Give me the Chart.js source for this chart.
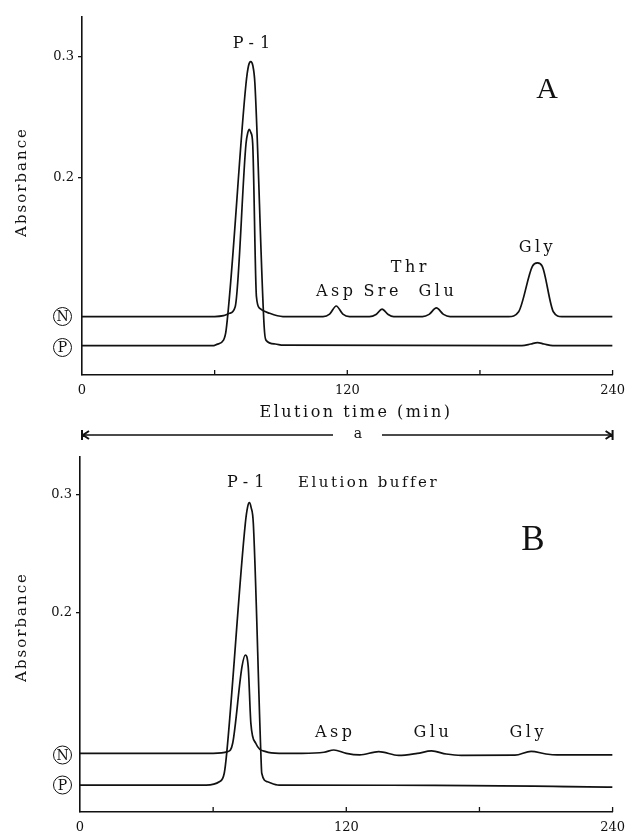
<!DOCTYPE html>
<html>
<head>
<meta charset="utf-8">
<script src="https://cdn.jsdelivr.net/npm/chart.js@4.4.1/dist/chart.umd.min.js"></script>
<style>
  html, body { margin: 0; padding: 0; background: #fff; }
  #wrap { width: 633px; height: 836px; position: relative; }
  canvas { display: block; }
</style>
</head>
<body>
<div id="wrap">
  <div style="width:633px;height:440px"><canvas id="chartA" width="633" height="440"></canvas></div>
  <div style="width:633px;height:396px"><canvas id="chartB" width="633" height="396"></canvas></div>
</div>
<script>
// elution time (min) and absorbance
const xTickValues = [0, 60, 120, 180, 240];
const xTickLabels = ['0', '', '120', '', '240'];
const yTickValues = [0.2, 0.3];

// panel A, trace P (broad P-1 peak)
const timeAP = [0, 59.6, 61.0, 64.0, 65.2, 74.2, 75.3, 76.3, 77.3, 78.2, 82.4, 83.2, 87.4, 91, 199, 203, 206, 209, 213, 240];
const absAP  = [0.0615, 0.0615, 0.0625, 0.066, 0.0744, 0.2783, 0.2926, 0.2961, 0.2926, 0.2783, 0.0771, 0.066, 0.0628, 0.0618, 0.0615, 0.0628, 0.064, 0.0628, 0.0615, 0.0615];

// panel A, trace N (narrow peak + amino acids)
const timeAN = [0, 60, 64, 66.7, 69.3, 74.2, 75.0, 75.7, 76.4, 77.2, 78.9, 80.4, 84.9, 90.9,
                109, 112, 115, 118, 121, 130, 133, 135.7, 138.5, 141,
                154, 157, 160.3, 163.5, 166.5, 193, 197.5, 203.7, 206, 208.2, 213.2, 217, 240];
const absAN  = [0.0855, 0.0855, 0.0862, 0.0882, 0.0936, 0.2287, 0.2375, 0.2402, 0.2375, 0.2287, 0.1019, 0.0923, 0.0882, 0.0855,
                0.0855, 0.0875, 0.0942, 0.0875, 0.0855, 0.0855, 0.0872, 0.0917, 0.0872, 0.0855,
                0.0855, 0.0873, 0.0926, 0.0873, 0.0855, 0.0855, 0.0895, 0.127, 0.1298, 0.127, 0.0895, 0.0855, 0.0855];

// panel B, trace P
const timeBP = [0, 56.8, 62.8, 65.0, 66.1, 74.5, 75.5, 76.3, 77.1, 78.1, 81.5, 81.9, 84.5, 89.7, 160, 240];
const absBP  = [0.0542, 0.0542, 0.057, 0.0642, 0.0811, 0.276, 0.2895, 0.2935, 0.2895, 0.276, 0.0811, 0.0642, 0.057, 0.0542, 0.054, 0.0525];

// panel B, trace N
const timeBN = [0, 60, 66.5, 68.8, 73.0, 74.5, 75.8, 77.0, 79.2, 83.7, 89.7, 100, 110, 114.4, 120, 126, 134.6, 143.6, 152, 158.4, 165, 171.8, 196, 203.3, 210, 215, 240];
const absBN  = [0.0811, 0.0811, 0.0825, 0.0896, 0.1545, 0.1644, 0.1545, 0.1065, 0.0896, 0.0825, 0.0811, 0.0811, 0.082, 0.0839, 0.081, 0.0797, 0.0825, 0.0793, 0.081, 0.0831, 0.0805, 0.0793, 0.0795, 0.0828, 0.0805, 0.0797, 0.0797];

// peak names: elution time and label height (px)
const peakLabelsA = [
  { text: 'P-1', t: 78, y: 44 },
  { text: 'Asp', t: 115, y: 292 },
  { text: 'Sre', t: 136, y: 292 },
  { text: 'Thr', t: 148.5, y: 268 },
  { text: 'Glu', t: 161, y: 292 },
  { text: 'Gly', t: 206, y: 248 }
];
const peakLabelsB = [
  { text: 'P-1', t: 76, y: 43 },
  { text: 'Asp', t: 115, y: 293 },
  { text: 'Glu', t: 159, y: 293 },
  { text: 'Gly', t: 202, y: 293 }
];

const INK = '#111';
const SERIF = '"DejaVu Serif", "Liberation Serif", serif';

function pts(ts, vs) {
  return ts.map((t, i) => ({ x: t, y: vs[i] }));
}

function traceSet(ts, vs) {
  return {
    data: pts(ts, vs),
    borderColor: INK,
    borderWidth: 1.7,
    pointRadius: 0,
    fill: false,
    cubicInterpolationMode: 'monotone'
  };
}

function spaced(ctx, text, x, y, spacing) {
  ctx.letterSpacing = spacing + 'px';
  ctx.fillText(text, x, y);
  ctx.letterSpacing = '0px';
}

function circled(ctx, letter, x, y) {
  ctx.beginPath();
  ctx.arc(x, y, 9, 0, Math.PI * 2);
  ctx.lineWidth = 1;
  ctx.strokeStyle = INK;
  ctx.stroke();
  ctx.font = '14px ' + SERIF;
  ctx.textAlign = 'center';
  ctx.textBaseline = 'middle';
  ctx.fillText(letter, x, y + 1);
}

function makeAnnot(opts) {
  return {
    id: 'annot',
    afterDraw(chart) {
      const ctx = chart.ctx;
      const xs = chart.scales.x;
      const bottom = chart.chartArea.bottom;
      ctx.save();
      ctx.fillStyle = INK;
      ctx.strokeStyle = INK;

      // inward x tick marks
      ctx.lineWidth = 1.3;
      xTickValues.slice(1).forEach(v => {
        const px = xs.getPixelForValue(v);
        ctx.beginPath();
        ctx.moveTo(px, bottom);
        ctx.lineTo(px, bottom - 5);
        ctx.stroke();
      });

      // y axis label
      ctx.save();
      ctx.translate(22, opts.absY);
      ctx.rotate(-Math.PI / 2);
      ctx.font = '15px ' + SERIF;
      ctx.textAlign = 'center';
      ctx.textBaseline = 'middle';
      spaced(ctx, 'Absorbance', 0, 0, 2);
      ctx.restore();

      // peak labels
      ctx.font = '16px ' + SERIF;
      ctx.textAlign = 'center';
      ctx.textBaseline = 'middle';
      opts.peaks.forEach(p => {
        spaced(ctx, p.text, xs.getPixelForValue(p.t), p.y, p.text === 'P-1' ? 6 : 3.5);
      });
      if (opts.extra) {
        ctx.font = '15px ' + SERIF;
        ctx.textAlign = 'left';
        spaced(ctx, opts.extra.text, opts.extra.x, opts.extra.y, 2.5);
      }

      // panel letter
      ctx.font = opts.letter.size + 'px "Liberation Serif", serif';
      ctx.textAlign = 'center';
      ctx.fillText(opts.letter.text, opts.letter.x, opts.letter.y);

      // circled trace markers
      circled(ctx, 'N', 62.5, opts.nY);
      circled(ctx, 'P', 62.5, opts.pY);

      if (opts.xTitle) {
        ctx.font = '16px ' + SERIF;
        ctx.textAlign = 'center';
        ctx.textBaseline = 'middle';
        spaced(ctx, 'Elution time (min)', 356, 413, 2.5);

        // span arrow "a"
        const x0 = xs.getPixelForValue(0), x1 = xs.getPixelForValue(240);
        const ay = 435;
        ctx.lineWidth = 1.3;
        ctx.beginPath();
        ctx.moveTo(x0, ay); ctx.lineTo(333, ay);
        ctx.moveTo(382, ay); ctx.lineTo(x1, ay);
        ctx.stroke();
        ctx.lineWidth = 2;
        ctx.beginPath();
        ctx.moveTo(x0, ay - 5); ctx.lineTo(x0, ay + 5);
        ctx.moveTo(x0 + 7, ay - 4); ctx.lineTo(x0 + 1, ay); ctx.lineTo(x0 + 7, ay + 4);
        ctx.moveTo(x1, ay - 5); ctx.lineTo(x1, ay + 5);
        ctx.moveTo(x1 - 7, ay - 4); ctx.lineTo(x1 - 1, ay); ctx.lineTo(x1 - 7, ay + 4);
        ctx.stroke();
        ctx.font = '14px ' + SERIF;
        ctx.fillText('a', 358, ay - 1);
      }
      ctx.restore();
    }
  };
}

function makeChart(id, sets, cfg) {
  return new Chart(document.getElementById(id), {
    type: 'line',
    data: { datasets: sets },
    options: {
      responsive: false,
      animation: false,
      layout: { padding: { top: 17, right: cfg.right, bottom: 0, left: 0 } },
      plugins: { legend: { display: false }, tooltip: { enabled: false } },
      scales: {
        x: {
          type: 'linear',
          min: 0, max: 240,
          afterBuildTicks: s => { s.ticks = xTickValues.map(v => ({ value: v })); },
          afterFit: s => { s.height = cfg.xHeight; },
          grid: { display: false, drawTicks: false },
          border: { display: true, color: INK, width: 1.6 },
          ticks: {
            autoSkip: false,
            maxRotation: 0,
            padding: cfg.xPad,
            color: INK,
            font: { family: SERIF, size: 13 },
            callback: (v, i) => xTickLabels[i]
          }
        },
        y: {
          type: 'linear',
          min: cfg.ymin, max: cfg.ymax,
          afterBuildTicks: s => { s.ticks = yTickValues.map(v => ({ value: v })); },
          afterFit: s => { s.width = cfg.left; },
          grid: { display: true, drawOnChartArea: false, drawTicks: true, tickLength: 4, color: INK, lineWidth: 1.3 },
          border: { display: true, color: INK, width: 1.6 },
          ticks: {
            padding: 4,
            color: INK,
            font: { family: SERIF, size: 13 },
            callback: v => v.toFixed(1)
          }
        }
      }
    },
    plugins: [makeAnnot(cfg.annot)]
  });
}

makeChart('chartA', [traceSet(timeAP, absAP), traceSet(timeAN, absAN)], {
  left: 82, right: 13, xHeight: 65, xPad: 8,
  ymin: 0.2 - 197 / 1210, ymax: 0.2 + 161 / 1210,
  annot: {
    absY: 182, peaks: peakLabelsA, nY: 316.5, pY: 347.5,
    letter: { text: 'A', size: 30, x: 547, y: 90 },
    xTitle: true
  }
});

makeChart('chartB', [traceSet(timeBP, absBP), traceSet(timeBN, absBN)], {
  left: 80, right: 18, xHeight: 24, xPad: 8,
  ymin: 0.2 - 199 / 1180, ymax: 0.2 + 156 / 1180,
  annot: {
    absY: 187, peaks: peakLabelsB, nY: 315, pY: 345,
    letter: { text: 'B', size: 35, x: 533, y: 101 },
    extra: { text: 'Elution buffer', x: 298, y: 43 },
    xTitle: false
  }
});
</script>
</body>
</html>
